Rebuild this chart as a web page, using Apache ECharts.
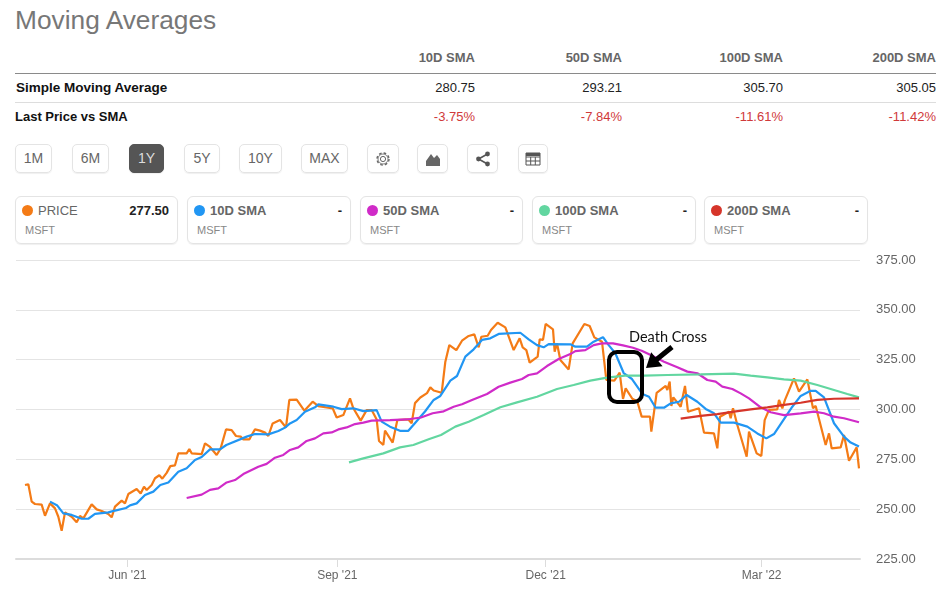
<!DOCTYPE html>
<html>
<head>
<meta charset="utf-8">
<title>Moving Averages</title>
<script src="https://cdn.jsdelivr.net/npm/echarts@6/dist/echarts.min.js"></script>
<style>
html, body { margin: 0; padding: 0; background: #fff; }
body { width: 948px; height: 589px; position: relative; overflow: hidden; font-family: "Liberation Sans", Arial, sans-serif; }
.title { position: absolute; left: 15px; top: 5px; font-size: 26.3px; line-height: 30px; color: #777; }
.hline { position: absolute; left: 15px; width: 921px; height: 1px; }
.cell { position: absolute; font-size: 13px; line-height: 16px; white-space: nowrap; }
.btn { position: absolute; top: 144px; height: 29px; box-sizing: border-box; border: 1px solid #e4e4e4; border-radius: 5px; color: #666; font-size: 14px; line-height: 27px; text-align: center; box-shadow: 0 1px 1px #f0f0f0; }
.btn.on { background: #555; color: #ddd; border-color: #555; }
.btn svg { display: block; margin: 5px auto 0; }
.card { position: absolute; top: 196px; height: 48px; box-sizing: border-box; border: 1px solid #e4e4e4; border-radius: 6px; box-shadow: 0 1px 1px #f0f0f0; }
.card i { position: absolute; left: 6px; top: 8px; width: 11px; height: 11px; border-radius: 50%; }
.card b { position: absolute; left: 22px; top: 6px; font-size: 13px; line-height: 16px; color: #666; }
.card b.plain { font-weight: normal; }
.card span { position: absolute; right: 8px; top: 6px; font-size: 13px; line-height: 16px; font-weight: bold; color: #222; }
.card small { position: absolute; left: 9px; top: 27px; font-size: 11px; line-height: 13px; color: #888; }
#chart { position: absolute; left: 0; top: 250px; width: 948px; height: 339px; }
</style>
</head>
<body>
<div class="title">Moving Averages</div>
<div id="table"></div>
<div id="buttons"></div>
<div id="cards"></div>
<div id="chart"></div>

<script>
// header table
const smaNames = ['10D SMA', '50D SMA', '100D SMA', '200D SMA'];
const smaLast = ['280.75', '293.21', '305.70', '305.05'];
const smaDiff = ['-3.75%', '-7.84%', '-11.61%', '-11.42%'];

// range buttons
const rangeLabels = ['1M', '6M', '1Y', '5Y', '10Y', 'MAX'];

// legend cards
const cardNames = ['PRICE', '10D SMA', '50D SMA', '100D SMA', '200D SMA'];
const cardValues = ['277.50', '-', '-', '-', '-'];
const cardColors = ['#f47b16', '#2196f3', '#d02bc8', '#62d6a0', '#d6352a'];

// axes
const yTicks = [225, 250, 275, 300, 325, 350, 375];
const monthNames = ["Jun '21", "Sep '21", "Dec '21", "Mar '22"];
const monthSessions = [30.7, 93.7, 156.2, 221];

// series: position in trading sessions + value
const priceSessions = [0, 1, 2, 3, 5, 6, 7.5, 9, 10, 11, 12, 14, 15.5, 16.5, 17.5, 20, 21.5, 23, 25, 26, 27, 29, 30, 31, 33.5, 34.7, 35.7, 36.5, 38, 39, 40.3, 41.2, 42.5, 43.6, 45, 46, 48.5, 49.3, 50, 53, 54, 55.5, 57.5, 58.7, 60.3, 62, 63.3, 64.7, 65.5, 67.3, 68, 69, 70.5, 72, 73, 74.3, 76.5, 78.3, 79.3, 81.5, 83.8, 86.3, 88, 90.5, 92.3, 93.5, 95.5, 97.5, 98.5, 100.7, 102.5, 104, 105.5, 106.2, 107.5, 108, 110.3, 111.7, 115, 116, 117, 118.6, 120.6, 121.6, 122.6, 125, 126.1, 127.3, 129.4, 131.1, 133.1, 134.8, 136.1, 136.9, 138.8, 139.8, 141.8, 144.1, 146.6, 148.4, 149.3, 150.4, 151.4, 153.8, 154.4, 155.4, 156.2, 158.4, 158.9, 159.6, 160.6, 163.1, 164.3, 167.8, 169.4, 170.8, 173.1, 174.4, 176.8, 178.4, 179.4, 180.2, 182.2, 183.7, 185, 187.5, 187.9, 189.5, 192.2, 192.7, 193.4, 193.9, 194.5, 196.7, 198, 198.9, 202.2, 203.7, 206.7, 207.7, 208.5, 211.2, 211.7, 212.4, 213.7, 216.5, 217.2, 219.5, 220.9, 221.9, 223.2, 225.7, 226.2, 227.2, 228, 230.7, 232.2, 234.7, 236.4, 237.2, 240.2, 241.2, 242, 244.7, 245.7, 247.2, 249.5, 250.2];
const priceValues = [262.1, 262.5, 253.8, 252.6, 252.3, 246.7, 252.9, 250.4, 246.2, 239.2, 248.4, 246.2, 243.4, 246.6, 245.4, 252.4, 249.9, 249.1, 247.6, 245.9, 251.3, 254.3, 252.9, 257.6, 260.1, 257.9, 261.3, 259.6, 262.1, 265.5, 267, 265.3, 268.2, 271.6, 272, 278, 278, 280.2, 278, 277.6, 283, 281.2, 277.2, 280.5, 290, 289.7, 286.7, 286.4, 285, 285, 287.2, 290, 289.4, 288.4, 286.7, 293, 294.7, 291, 304.8, 305, 299.4, 303.9, 301.7, 301, 300.6, 296, 297.2, 305.6, 300.6, 294.4, 299.7, 299.7, 295, 284.2, 282.2, 289.4, 283.4, 294.7, 295, 293.1, 303.2, 306, 308.2, 311.1, 309.5, 308.4, 324, 332.3, 329.8, 334.5, 336.9, 337.7, 331.2, 336.5, 337, 339.9, 343.5, 341.2, 329.8, 335.7, 331.2, 329.8, 323.5, 326.5, 335.2, 334.9, 342.9, 340.2, 329, 333.2, 324.8, 320.1, 333.2, 342.9, 341.9, 336.2, 334, 314.8, 314.5, 318.5, 305.3, 310.6, 305.4, 304, 296.4, 296.4, 288.9, 308.4, 311.8, 309.8, 314, 301.8, 306.1, 301.4, 311.8, 298.9, 300.6, 288.4, 288, 280.5, 296.4, 298.9, 295.6, 300.6, 292.2, 276.3, 288.9, 278, 276.7, 294.7, 299.8, 300.1, 304.8, 300.6, 304.8, 315.6, 309, 315.1, 300.6, 301.8, 282.2, 288, 280.5, 281, 287.2, 274.3, 281, 270.5];

const sma10Sessions = [7.5, 9.7, 11.5, 14, 17, 19, 21, 25, 27, 30.3, 31.5, 33.5, 36, 38.5, 40.6, 43, 46, 48.5, 51, 53, 55.5, 58.5, 60.4, 66.5, 69, 73, 76, 78, 79.5, 81.5, 84, 87, 88, 92.5, 95, 98.5, 101.5, 105.5, 107, 109.5, 112.5, 115, 116.7, 120, 122.6, 124.6, 127.6, 129.6, 132.1, 134.6, 137.1, 139.6, 142.1, 148.6, 151.1, 153.6, 155.6, 157.1, 163.6, 165.1, 168.6, 170.6, 173.4, 175.1, 177.1, 179.6, 182.1, 185.2, 187.2, 189.2, 191.7, 193.7, 196.2, 198.5, 201.7, 204.2, 206.7, 208.7, 212.7, 216.7, 219.7, 222.4, 224.7, 227.2, 230.2, 232.7, 235.7, 237.2, 239.7, 242.7, 245.7, 247.7, 250.2];
const sma10Values = [253.8, 251.8, 247.9, 247.1, 245.2, 245.2, 247.6, 248.4, 249.3, 250.6, 251.9, 252.9, 257.1, 258.8, 262.1, 263.4, 268.8, 270.5, 274.7, 276.2, 280, 280, 282.2, 286.4, 287.7, 287.5, 289.2, 290.9, 293, 294.7, 298.9, 301.1, 302.6, 301.4, 300.2, 300.6, 299.2, 299.7, 293.9, 291.4, 289.3, 289.3, 292.6, 299, 304.8, 306.8, 314.5, 316.8, 326.5, 330.2, 334.9, 335.7, 337.9, 338.5, 335.2, 332.3, 331.2, 332.8, 332.7, 331.5, 331.5, 334, 336.3, 332.3, 328.2, 318.3, 315.3, 307.8, 306.4, 300.9, 300.9, 303.1, 303.9, 307.3, 303.9, 300.3, 298.1, 293.4, 293.4, 291.4, 288, 285.5, 287.7, 293.9, 301.4, 306.8, 309.4, 309.3, 306.1, 293.1, 286.4, 283.4, 281.4];

const sma50Sessions = [48.5, 53, 55.5, 58, 60.5, 63, 65.5, 70, 72.5, 75, 77.5, 79.5, 82, 84.5, 87, 89.5, 92, 94, 96.5, 99, 101.5, 104, 109.5, 114.5, 118.8, 122.3, 125.6, 128.6, 131.1, 134.1, 138.6, 142.1, 145.6, 149.1, 151.1, 153.6, 156.6, 160.1, 163.6, 165.1, 168.1, 170.6, 173.1, 176.4, 179.4, 182.4, 185, 187.7, 191.7, 195.7, 198.7, 201.7, 204.7, 207.2, 209.2, 212.2, 214.7, 217.2, 220.7, 223.7, 227.7, 232.7, 236.7, 239.7, 242.7, 245.7, 250.2];
const sma50Values = [255.6, 257.3, 259.7, 260.4, 263.4, 264.6, 267.6, 271.3, 272.7, 275.8, 277.2, 279.7, 281, 284.2, 285.5, 288, 288.5, 290, 291, 292.7, 293.4, 294.4, 294.7, 295, 296, 298.1, 299.1, 301.4, 302.6, 304.8, 307.8, 311.4, 313.5, 315.3, 317.3, 318.1, 321.8, 325.3, 327.8, 329.3, 329.8, 332.3, 333.2, 333.2, 332.2, 331, 329.5, 327.3, 324, 321.2, 319, 318.2, 314.8, 314, 311.5, 310.3, 308.1, 305.6, 301.1, 298.6, 297.2, 298.1, 298.9, 298.1, 296.4, 295.6, 293.6];

const sma100Sessions = [97.2, 101.5, 107.5, 112.5, 116.5, 121.3, 124.8, 129.1, 133.1, 137.6, 142.6, 147.6, 153.6, 159.6, 164.6, 169.6, 174.6, 180, 185.7, 192.7, 202.7, 212.7, 217.7, 222.7, 227.7, 232.7, 237.7, 242.7, 246.7, 250.2];
const sma100Values = [273.5, 275.5, 278, 281, 282.2, 285.2, 287.2, 291.4, 293.9, 297.2, 301.1, 303.6, 306.4, 310.3, 312.3, 314.5, 316, 317, 317, 317.3, 317.6, 318, 317, 316.1, 315.1, 314.5, 312.3, 309.8, 307.8, 306.1];

const sma200Sessions = [196.7, 202.7, 207.7, 212.7, 217.7, 222.7, 227.7, 232.7, 237.7, 242.7, 250.2];
const sma200Values = [295.4, 296.8, 297.7, 298.9, 300.1, 301.1, 302.3, 303.4, 304.8, 305.4, 305.6];

function pairs(xs, ys) {
  return xs.map((x, i) => [x, ys[i]]);
}

function putCell(text, left, top, extra) {
  const el = document.createElement('div');
  el.className = 'cell';
  el.textContent = text;
  el.style.left = left + 'px';
  el.style.top = top + 'px';
  el.style.cssText += extra || '';
  document.getElementById('table').appendChild(el);
}

function buildTable() {
  const rights = [475, 622, 783, 936];
  rights.forEach((r, i) => {
    putCell(smaNames[i], r - 100, 50, 'width:100px;text-align:right;font-weight:bold;color:#666;');
    putCell(smaLast[i], r - 100, 80, 'width:100px;text-align:right;color:#222;');
    putCell(smaDiff[i], r - 100, 109, 'width:100px;text-align:right;color:#d0393a;');
  });
  putCell('Simple Moving Average', 16, 80, 'font-weight:bold;font-size:13.5px;color:#111;');
  putCell('Last Price vs SMA', 15, 109, 'font-weight:bold;color:#111;');
  const box = document.getElementById('table');
  box.insertAdjacentHTML('beforeend', '<div class="hline" style="top:73px;background:#8a8a8a"></div>');
  box.insertAdjacentHTML('beforeend', '<div class="hline" style="top:102px;background:#ddd"></div>');
}

function buildButtons() {
  const box = document.getElementById('buttons');
  const lefts = [15, 72, 129, 184, 239, 301];
  const widths = [37, 37, 35, 36, 43, 47];
  rangeLabels.forEach((t, i) => {
    const cls = t === '1Y' ? 'btn on' : 'btn';
    box.insertAdjacentHTML('beforeend', `<div class="${cls}" style="left:${lefts[i]}px;width:${widths[i]}px">${t}</div>`);
  });
  const icons = [
    [367, 32, '<circle cx="9" cy="9" r="2.6" fill="none" stroke="#666"/><circle cx="9" cy="9" r="6" fill="none" stroke="#666" stroke-width="1.4" stroke-dasharray="2.6 2.1"/><circle cx="9" cy="9" r="5" fill="none" stroke="#666" stroke-width=".8"/>'],
    [417, 31, '<path d="M2 16 V11 L7 4 L10 8 L13 5 L16 9 V16 Z" fill="#666"/>'],
    [467, 31, '<path d="M13.5 4 L4.5 9 L13.5 14" fill="none" stroke="#555" stroke-width="1.6"/><circle cx="13.5" cy="4" r="2.4" fill="#555"/><circle cx="4.5" cy="9" r="2.4" fill="#555"/><circle cx="13.5" cy="14" r="2.4" fill="#555"/>'],
    [518, 30, '<path d="M2 3 H16 V15 H2 Z M2 7 H16 M2 11 H16 M6.7 7 V15 M11.3 7 V15" fill="none" stroke="#555"/><rect x="2" y="3" width="14" height="3" fill="#555"/>']
  ];
  icons.forEach(ic => {
    box.insertAdjacentHTML('beforeend', `<div class="btn" style="left:${ic[0]}px;width:${ic[1]}px"><svg width="18" height="18">${ic[2]}</svg></div>`);
  });
}

function buildCards() {
  const box = document.getElementById('cards');
  const lefts = [15, 187, 360, 532, 704];
  const widths = [163, 164, 163, 164, 164];
  cardNames.forEach((name, i) => {
    const cls = name === 'PRICE' ? ' class="plain"' : '';
    box.insertAdjacentHTML('beforeend',
      `<div class="card" style="left:${lefts[i]}px;width:${widths[i]}px"><i style="background:${cardColors[i]}"></i><b${cls}>${name}</b><span>${cardValues[i]}</span><small>MSFT</small></div>`);
  });
}

function createChart() {
  const chart = echarts.init(document.getElementById('chart'));
  const lineSeries = (name, data, color) => ({
    name: name,
    type: 'line',
    data: data,
    showSymbol: false,
    symbol: 'none',
    lineStyle: { color: color, width: 2.2 },
    itemStyle: { color: color },
    silent: true
  });
  const options = {
    animation: false,
    textStyle: { fontFamily: '"Liberation Sans", Arial, sans-serif' },
    grid: { left: 16, right: 88, top: 10, height: 299 },
    xAxis: {
      type: 'value',
      min: -2.7,
      max: 250.5,
      splitLine: { show: false },
      axisLine: { lineStyle: { color: '#dcdcdc', width: 2 } },
      axisTick: { length: 8, lineStyle: { color: '#dcdcdc' }, customValues: monthSessions },
      axisLabel: {
        customValues: monthSessions,
        color: '#666',
        fontSize: 12,
        margin: 11,
        formatter: v => monthNames[monthSessions.indexOf(v)]
      }
    },
    yAxis: {
      type: 'value',
      position: 'right',
      min: yTicks[0],
      max: yTicks[yTicks.length - 1],
      interval: 25,
      axisLine: { show: false },
      axisTick: { show: false },
      splitLine: { lineStyle: { color: '#e4e4e4' } },
      axisLabel: {
        color: '#666',
        fontSize: 13,
        margin: 16,
        padding: [3, 0, 0, 0],
        formatter: v => v.toFixed(2)
      }
    },
    series: [
      lineSeries('PRICE', pairs(priceSessions, priceValues), cardColors[0]),
      lineSeries('10D SMA', pairs(sma10Sessions, sma10Values), cardColors[1]),
      lineSeries('50D SMA', pairs(sma50Sessions, sma50Values), cardColors[2]),
      lineSeries('100D SMA', pairs(sma100Sessions, sma100Values), cardColors[3]),
      lineSeries('200D SMA', pairs(sma200Sessions, sma200Values), cardColors[4])
    ],
    // hand drawn note on top of the chart
    graphic: [
      {
        type: 'rect',
        shape: { x: 609, y: 102, width: 33, height: 50, r: 8 },
        style: { fill: 'none', stroke: '#000', lineWidth: 4 },
        z: 100
      },
      {
        type: 'polygon',
        shape: { points: [[646, 118], [651.2, 102.2], [655.3, 107.2], [670.4, 95], [673.6, 99], [658.5, 111.2], [662.6, 116.2]] },
        style: { fill: '#000' },
        z: 100
      },
      {
        type: 'text',
        x: 629,
        y: 80,
        style: { text: 'Death Cross', fill: '#111', font: '14.5px Lato, sans-serif' },
        z: 100
      }
    ]
  };
  chart.setOption(options);
}

buildTable();
buildButtons();
buildCards();
createChart();
</script>
</body>
</html>
